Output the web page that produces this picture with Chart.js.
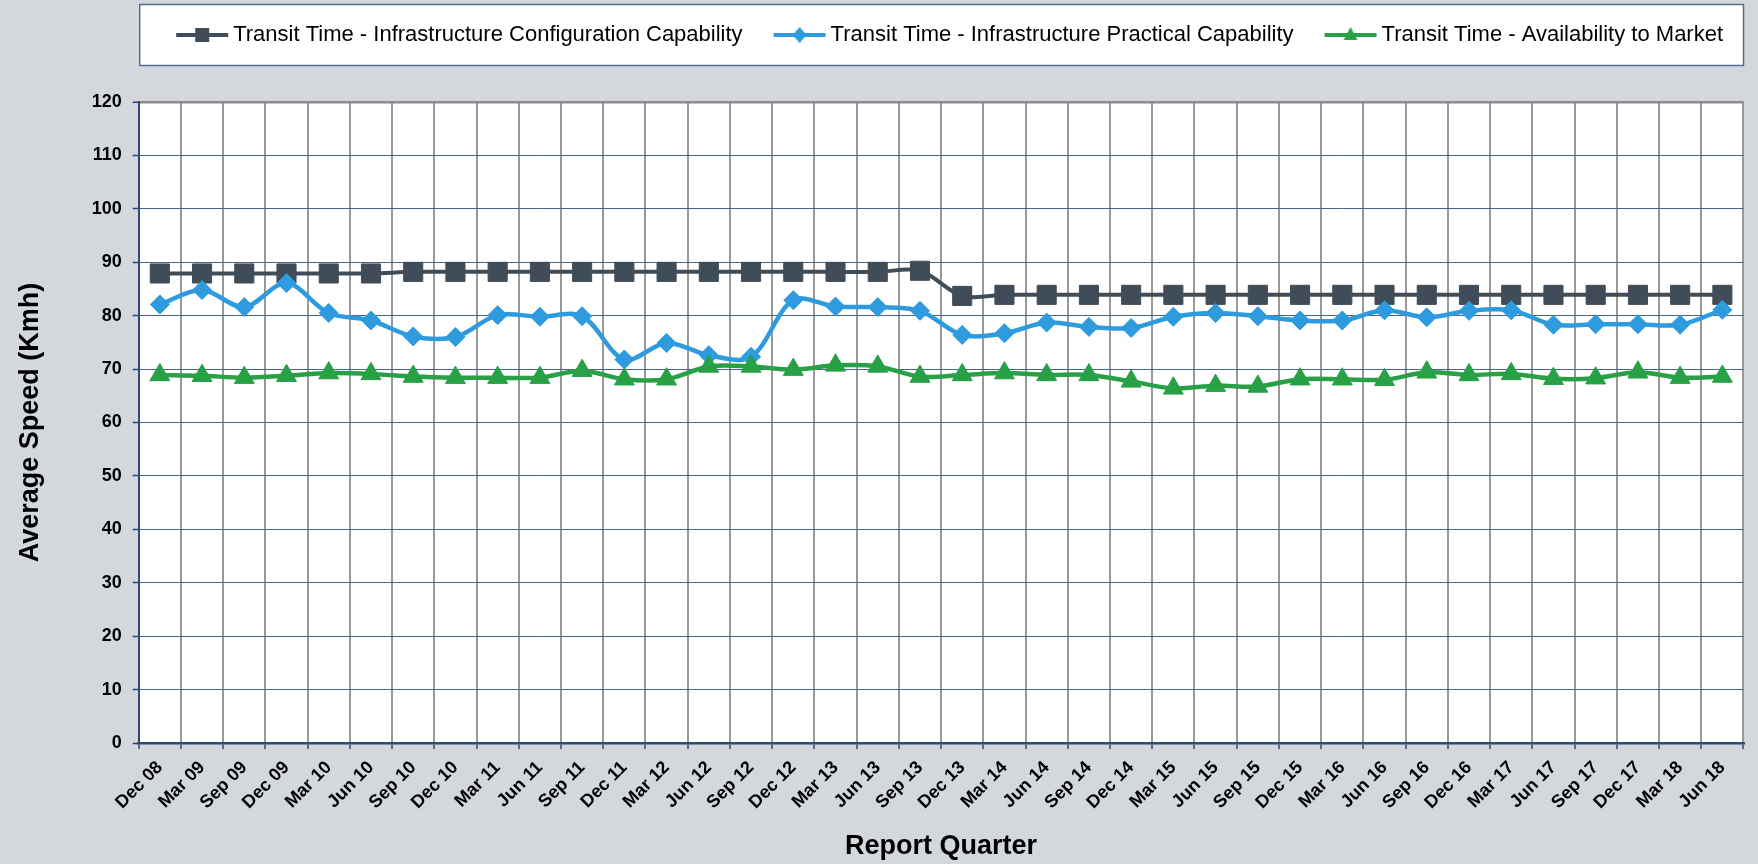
<!DOCTYPE html>
<html lang="en">
<head>
    <meta charset="UTF-8">
    <title>Transit Time - Average Speed</title>
    <script src="https://cdn.jsdelivr.net/npm/chart.js"></script>
    <style>
        html, body { margin: 0; padding: 0; background: #d4d8dc; }
        #wrap { width: 1758px; height: 864px; }
    </style>
</head>
<body>
    <div id="wrap">
        <canvas id="speed-chart" width="1758" height="864"></canvas>
    </div>

    <script>
        // Report quarters
        const quarters = [
            'Dec 08', 'Mar 09', 'Sep 09', 'Dec 09', 'Mar 10', 'Jun 10', 'Sep 10', 'Dec 10',
            'Mar 11', 'Jun 11', 'Sep 11', 'Dec 11', 'Mar 12', 'Jun 12', 'Sep 12', 'Dec 12',
            'Mar 13', 'Jun 13', 'Sep 13', 'Dec 13', 'Mar 14', 'Jun 14', 'Sep 14', 'Dec 14',
            'Mar 15', 'Jun 15', 'Sep 15', 'Dec 15', 'Mar 16', 'Jun 16', 'Sep 16', 'Dec 16',
            'Mar 17', 'Jun 17', 'Sep 17', 'Dec 17', 'Mar 18', 'Jun 18'
        ];

        const configCapability = [
            87.9, 87.9, 87.9, 87.9, 87.9, 87.9, 88.2, 88.2, 88.2, 88.2, 88.2, 88.2, 88.2,
            88.2, 88.2, 88.2, 88.2, 88.2, 88.4, 83.7, 83.9, 83.9, 83.9, 83.9, 83.9, 83.9,
            83.9, 83.9, 83.9, 83.9, 83.9, 83.9, 83.9, 83.9, 83.9, 83.9, 83.9, 83.9
        ];

        const practicalCapability = [
            82.1, 84.8, 81.6, 86.1, 80.5, 79.1, 76.1, 76.0, 80.1, 79.8, 79.9, 71.8, 74.9,
            72.6, 72.3, 82.9, 81.7, 81.6, 80.9, 76.4, 76.7, 78.7, 77.9, 77.7, 79.8, 80.5,
            79.9, 79.1, 79.1, 81.0, 79.7, 80.9, 81.0, 78.3, 78.4, 78.4, 78.3, 81.1
        ];

        const availabilityToMarket = [
            68.9, 68.75, 68.4, 68.75, 69.25, 69.1, 68.6, 68.4, 68.4, 68.4, 69.7, 68.1, 68.1,
            70.5, 70.5, 69.9, 70.7, 70.5, 68.6, 68.9, 69.25, 68.9, 68.9, 67.7, 66.4, 66.9,
            66.75, 68.1, 68.1, 68.0, 69.4, 68.9, 69.1, 68.2, 68.3, 69.4, 68.4, 68.6
        ];

        const yTicks = { min: 0, max: 120, step: 10 };

        const GREY = '#404d59';
        const BLUE = '#2e9bdf';
        const GREEN = '#28a046';
        const FONT = "'Liberation Sans', Arial, sans-serif";

        // little line + marker pictures for the legend
        function legendMark(color, style) {
            const c = document.createElement('canvas');
            c.width = 54; c.height = 24;
            const g = c.getContext('2d');
            g.strokeStyle = color;
            g.lineWidth = 4;
            g.beginPath(); g.moveTo(1, 12); g.lineTo(53, 12); g.stroke();
            g.fillStyle = color;
            g.beginPath();
            if (style === 'rect') {
                g.rect(20, 5, 14, 14);
            } else if (style === 'rectRot') {
                g.moveTo(27, 4); g.lineTo(34, 12); g.lineTo(27, 20); g.lineTo(20, 12); g.closePath();
            } else {
                g.moveTo(27, 4); g.lineTo(34, 17); g.lineTo(20, 17); g.closePath();
            }
            g.fill();
            return c;
        }

        // background, white plot area and the legend frame
        const backdrop = {
            id: 'backdrop',
            beforeDraw(chart) {
                const { ctx, chartArea: a } = chart;
                ctx.save();
                ctx.fillStyle = '#d4d8dc';
                ctx.fillRect(0, 0, chart.width, chart.height);
                ctx.fillStyle = '#ffffff';
                ctx.fillRect(a.left, a.top, a.right - a.left, a.bottom - a.top);
                ctx.fillRect(a.left + 1, 4.5, a.right - a.left - 1, 61);
                ctx.strokeStyle = '#4f6f96';
                ctx.lineWidth = 1.5;
                ctx.strokeRect(a.left + 1, 4.5, a.right - a.left - 1, 61);
                ctx.restore();
            }
        };

        // keep room between legend and plot, centre the legend row in its frame
        const legendSpace = {
            id: 'legendSpace',
            beforeInit(chart) {
                const fit = chart.legend.fit;
                chart.legend.fit = function () {
                    fit.call(this);
                    this.height = 104;
                };
            },
            afterLayout(chart) {
                const lg = chart.legend;
                const a = chart.chartArea;
                const dx = (a.left + a.right) / 2 + 11.5 - (lg.left + lg.right) / 2;
                lg.left += dx; lg.right += dx;
                lg.top -= 11; lg.bottom -= 11;
            }
        };

        const datasets = [
            {
                label: 'Transit Time - Infrastructure Configuration Capability',
                data: configCapability,
                borderColor: GREY,
                backgroundColor: GREY,
                borderWidth: 4,
                pointStyle: 'rect',
                pointRadius: 13.5,
                pointHoverRadius: 13.5,
                pointBorderWidth: 1,
                mark: legendMark(GREY, 'rect'),
                order: 3
            },
            {
                label: 'Transit Time - Infrastructure Practical Capability',
                data: practicalCapability,
                borderColor: BLUE,
                backgroundColor: BLUE,
                borderWidth: 4.5,
                pointStyle: 'rectRot',
                pointRadius: 9.5,
                pointHoverRadius: 9.5,
                pointBorderWidth: 1,
                mark: legendMark(BLUE, 'rectRot'),
                order: 2
            },
            {
                label: 'Transit Time - Availability to Market',
                data: availabilityToMarket,
                borderColor: GREEN,
                backgroundColor: GREEN,
                borderWidth: 4.5,
                pointStyle: 'triangle',
                pointRadius: 11.5,
                pointHoverRadius: 11.5,
                pointBorderWidth: 1,
                mark: legendMark(GREEN, 'triangle'),
                order: 1
            }
        ];

        const ctx = document.getElementById('speed-chart').getContext('2d');
        new Chart(ctx, {
            type: 'line',
            data: { labels: quarters, datasets: datasets },
            options: {
                responsive: false,
                animation: false,
                layout: { padding: { top: -2, left: 8, right: 7, bottom: 0 } },
                elements: { line: { tension: 0.33 } },
                plugins: {
                    tooltip: { enabled: false },
                    legend: {
                        position: 'top',
                        fullSize: true,
                        labels: {
                            usePointStyle: true,
                            pointStyleWidth: 40,
                            padding: 37,
                            color: '#000',
                            font: { family: FONT, size: 22 },
                            generateLabels(chart) {
                                return chart.data.datasets.map((ds, i) => ({
                                    text: ds.label,
                                    fillStyle: ds.backgroundColor,
                                    strokeStyle: ds.borderColor,
                                    lineWidth: 0,
                                    pointStyle: ds.mark,
                                    hidden: false,
                                    datasetIndex: i,
                                    fontColor: '#000'
                                }));
                            }
                        }
                    }
                },
                scales: {
                    x: {
                        type: 'category',
                        offset: true,
                        afterFit(scale) { scale.height = 121; },
                        grid: {
                            offset: true,
                            color: '#999999',
                            lineWidth: 2,
                            tickColor: '#2d4b70',
                            tickLength: 6,
                            tickWidth: 1.5
                        },
                        border: { color: '#2d4b70', width: 2.5 },
                        ticks: {
                            autoSkip: false,
                            minRotation: 45,
                            maxRotation: 45,
                            padding: 8,
                            color: '#000',
                            font: { family: FONT, size: 18, weight: 'bold' }
                        },
                        title: {
                            display: true,
                            text: 'Report Quarter',
                            color: '#000',
                            padding: { top: 0, bottom: 1 },
                            font: { family: FONT, size: 27, weight: 'bold' }
                        }
                    },
                    y: {
                        min: yTicks.min,
                        max: yTicks.max,
                        afterFit(scale) { scale.width = 130.7; },
                        grid: {
                            color: (c) => c.tick && c.tick.value === yTicks.max ? '#8c8c8c' : '#46658d',
                            lineWidth: (c) => c.tick && c.tick.value === yTicks.max ? 2.5 : 1,
                            tickColor: '#2d4b70',
                            tickLength: 6,
                            tickWidth: 1.5
                        },
                        border: { color: '#2d4b70', width: 2 },
                        ticks: {
                            stepSize: yTicks.step,
                            padding: 11,
                            color: '#000',
                            font: { family: FONT, size: 18, weight: 'bold' }
                        },
                        title: {
                            display: true,
                            text: 'Average Speed (Kmh)',
                            color: '#000',
                            padding: { top: 6.4, bottom: 0 },
                            font: { family: FONT, size: 27, weight: 'bold' }
                        }
                    }
                }
            },
            plugins: [backdrop, legendSpace]
        });
    </script>
</body>
</html>
